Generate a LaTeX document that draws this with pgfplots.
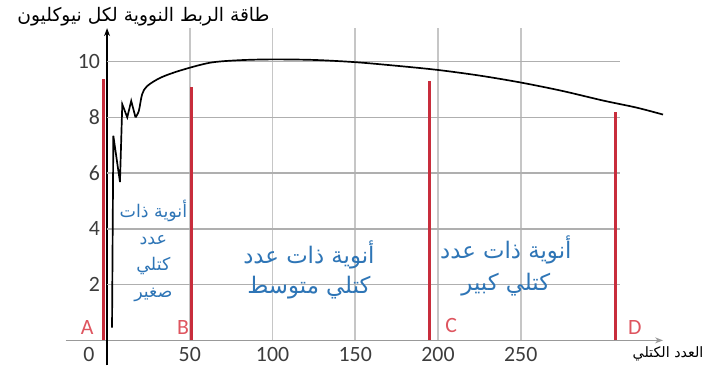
\documentclass[border=0pt]{standalone}
\usepackage{pgfplots}
\pgfplotsset{compat=1.18}
\usetikzlibrary{arrows.meta}
\usepackage{fontspec}
\setmainfont{Carlito}
\newfontfamily\arabicfont[Script=Arabic]{DejaVu Sans}
\TeXXeTstate=1
\definecolor{redline}{RGB}{200,45,60}
\definecolor{letterred}{RGB}{222,85,95}
\definecolor{textblue}{RGB}{46,117,182}
\definecolor{gridgray}{RGB}{198,198,198}
\definecolor{hgridgray}{RGB}{175,175,175}
\definecolor{ticktext}{RGB}{60,60,60}
\begin{document}
\begin{tikzpicture}
\begin{axis}[
  x=0.834pt, y=14.05pt,
  xmin=-25, xmax=336, ymin=-0.9, ymax=11.2,
  axis lines=middle,
  x axis line style={draw=gray!80, line width=0.6pt, -{Stealth[length=4pt,width=3pt]}},
  y axis line style={draw=black, line width=0.6pt, -{Stealth[length=4pt,width=3pt]}},
  xtick={50,100,150,200,250}, ytick={2,4,6,8,10},
  major tick length=0pt,
  tick label style={font=\fontsize{11}{13}\selectfont, text=ticktext},
  /pgf/number format/assume math mode=true,
  clip=false,
]
% bounding box matching the reference frame
\path (axis cs:-64.7,-1.17) rectangle (axis cs:360.9,12.21);
% grid (data-driven segments)
\addplot[gridgray, line width=0.9pt, forget plot] coordinates {(50,0) (50,11.2)};
\addplot[gridgray, line width=0.9pt, forget plot] coordinates {(100,0) (100,11.2)};
\addplot[gridgray, line width=0.9pt, forget plot] coordinates {(150,0) (150,11.2)};
\addplot[gridgray, line width=0.9pt, forget plot] coordinates {(200,0) (200,11.2)};
\addplot[gridgray, line width=0.9pt, forget plot] coordinates {(250,0) (250,11.2)};
\addplot[hgridgray, line width=0.8pt, forget plot] coordinates {(0,2) (310,2)};
\addplot[hgridgray, line width=0.8pt, forget plot] coordinates {(0,4) (310,4)};
\addplot[hgridgray, line width=0.8pt, forget plot] coordinates {(0,6) (310,6)};
\addplot[hgridgray, line width=0.8pt, forget plot] coordinates {(0,8) (310,8)};
\addplot[hgridgray, line width=0.8pt, forget plot] coordinates {(0,10) (310,10)};
% red boundary lines
\addplot[redline, line width=1.5pt] coordinates {(-2,0) (-2,9.36)};
\addplot[redline, line width=1.5pt] coordinates {(51,0) (51,9.1)};
\addplot[redline, line width=1.5pt] coordinates {(195,0) (195,9.3)};
\addplot[redline, line width=1.5pt] coordinates {(307,0) (307,8.2)};
% binding energy curve
\addplot[black, line width=0.85pt] coordinates {
  (3,0.46) (3.8,7.34) (7.8,5.68) (9.2,8.47) (12.2,8.0) (14.6,8.59) (17.2,8.0)
};
\addplot[black, line width=0.85pt, smooth] coordinates {
  (17.2,8.0) (19.2,8.23) (21.2,8.83) (24.2,9.12) (32.2,9.42) (44.2,9.68)
  (62.2,9.96) (80,10.05) (100,10.08) (125,10.06) (150,9.98) (175,9.85)
  (200,9.7) (225,9.5) (250,9.25) (275,8.95) (300,8.6) (320,8.35) (336,8.1)
};
% origin label
\node[text=ticktext, font=\fontsize{11}{13}\selectfont] at (axis cs:-11,-0.5) {0};
% letters
\node[text=letterred, font=\fontsize{11}{13}\selectfont] at (axis cs:-12,0.46) {A};
\node[text=letterred, font=\fontsize{11}{13}\selectfont] at (axis cs:46,0.46) {B};
\node[text=letterred, font=\fontsize{11}{13}\selectfont] at (axis cs:208,0.53) {C};
\node[text=letterred, font=\fontsize{11}{13}\selectfont] at (axis cs:319,0.46) {D};
% region texts
\node[text=textblue, font=\arabicfont\fontsize{8.8}{10}\selectfont] at (axis cs:28,4.63) {\beginR أنوية ذات\endR};
\node[text=textblue, font=\arabicfont\fontsize{8.8}{10}\selectfont] at (axis cs:28,3.59) {\beginR عدد\endR};
\node[text=textblue, font=\arabicfont\fontsize{8.8}{10}\selectfont] at (axis cs:28,2.67) {\beginR كتلي\endR};
\node[text=textblue, font=\arabicfont\fontsize{8.8}{10}\selectfont] at (axis cs:28,1.64) {\beginR صغير\endR};
\node[text=textblue, font=\arabicfont\fontsize{11.5}{13}\selectfont] at (axis cs:122,3.06) {\beginR أنوية ذات عدد\endR};
\node[text=textblue, font=\arabicfont\fontsize{11.5}{13}\selectfont] at (axis cs:122,1.89) {\beginR كتلي متوسط\endR};
\node[text=textblue, font=\arabicfont\fontsize{11.5}{13}\selectfont] at (axis cs:241,3.24) {\beginR أنوية ذات عدد\endR};
\node[text=textblue, font=\arabicfont\fontsize{11.5}{13}\selectfont] at (axis cs:241,2.0) {\beginR كتلي كبير\endR};
% axis titles
\node[font=\arabicfont\fontsize{9.4}{10}\selectfont] at (axis cs:22,11.62) {\beginR طاقة الربط النووية لكل نيوكليون\endR};
\node[font=\arabicfont\fontsize{7.2}{8}\selectfont] at (axis cs:339,-0.5) {\beginR العدد الكتلي\endR};
\end{axis}
\end{tikzpicture}
\end{document}
